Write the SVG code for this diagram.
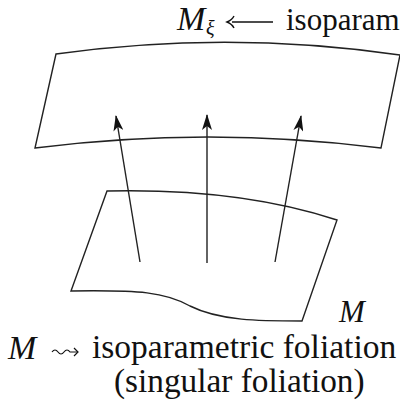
<svg xmlns="http://www.w3.org/2000/svg" width="400" height="410" viewBox="0 0 400 410">
<style>
.s{fill:none;stroke:#222;stroke-width:1.4;stroke-linejoin:miter}
.lbl{font-family:'Liberation Serif','Times New Roman',serif;fill:#111}
.it{font-style:italic}
</style>
<defs>
<marker id="ah" viewBox="0 0 16 10" refX="15" refY="5" markerWidth="16" markerHeight="10" markerUnits="userSpaceOnUse" orient="auto">
<path d="M0,0 L16,5 L0,10 L4,5 Z" fill="#111"/>
</marker>
</defs>
<g id="fiber">
<path class="s" d="M56,54 Q228,30 400,55 L381,148 Q208,126 35,148 Z"/>
</g>
<g id="base">
<path class="s" d="M107,191 Q240,188 337,220 L302,321 C260,321 220,321 190,306 C165,292 140,290 71,291 Z"/>
</g>
<g id="connectors">
<line class="s" x1="140" y1="262" x2="116" y2="116" marker-end="url(#ah)"/>
<line class="s" x1="207" y1="263" x2="207" y2="115" marker-end="url(#ah)"/>
<line class="s" x1="275" y1="262" x2="301" y2="116" marker-end="url(#ah)"/>
</g>
<g id="label-top">
<text class="lbl it" x="177" y="30" font-size="34">M</text>
<text class="lbl it" x="206" y="35" font-size="20">ξ</text>
<line x1="232" y1="22" x2="273" y2="22" stroke="#111" stroke-width="1.6"/>
<path d="M234,16 Q232,20 227,22 Q232,24 234,28" fill="none" stroke="#111" stroke-width="1.4"/>
<text class="lbl" x="286" y="30" font-size="31">isoparam</text>
</g>
<g id="label-M">
<text class="lbl it" x="339" y="322" font-size="31">M</text>
</g>
<g id="label-bottom">
<text class="lbl it" x="8" y="359" font-size="34">M</text>
<path d="M52,352 q3,-4 6,0 t6,0 t6,0 L78,352" fill="none" stroke="#111" stroke-width="1.2"/>
<path d="M74,348 L78,352 L74,356" fill="none" stroke="#111" stroke-width="1.2"/>
<text class="lbl" x="92" y="358" font-size="33.5">isoparametric foliation</text>
<text class="lbl" x="114" y="392" font-size="33.3">(singular foliation)</text>
</g>
</svg>
